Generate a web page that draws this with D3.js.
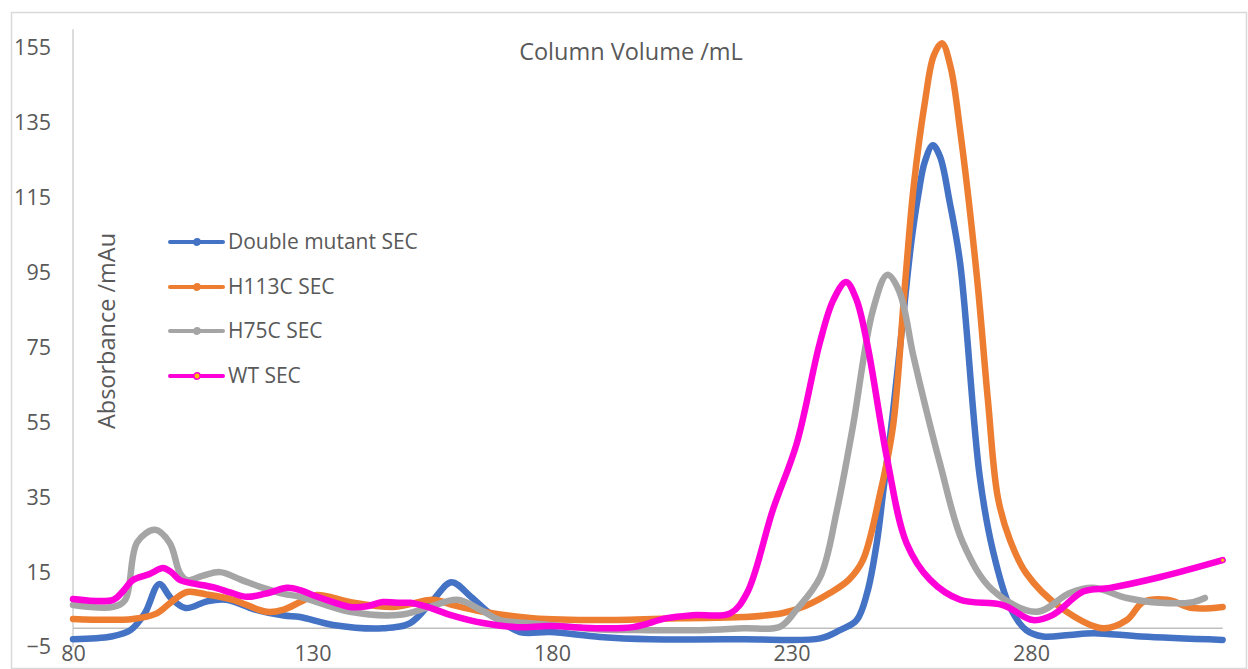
<!DOCTYPE html>
<html>
<head>
<meta charset="utf-8">
<script src="https://cdn.jsdelivr.net/npm/d3@7/dist/d3.min.js"></script>
<style>
  html, body { margin: 0; padding: 0; background: #fff; }
  svg { display: block; }
  text { font-family: "Open Sans", sans-serif; fill: #595959; }
</style>
</head>
<body>
<svg id="chart" width="1248" height="669"></svg>
<script>
// Size-exclusion chromatography traces: elution volume (mL) vs absorbance (mAu)
const seriesNames = ["Double mutant SEC", "H113C SEC", "H75C SEC", "WT SEC"];
const seriesColors = ["#4472C4", "#ED7D31", "#A5A5A5", "#FF00D8"];

const doubleMutantVolume = [80, 88, 92, 95, 98, 100.5, 103.5, 108, 112, 118, 124, 127.4, 134.3, 144.7, 150.4, 155.2, 159, 163, 167, 173.3, 179.6, 190, 200.5, 220, 236, 240.1, 243.6, 245.8, 247.8, 249.1, 251.2, 253.3, 255, 256.5, 257.8, 259.5, 261, 263, 265.2, 269.3, 272, 275.6, 279, 282.5, 288, 293, 303, 320];
const doubleMutantAbs = [-2.9, -2.2, -0.5, 4, 11.8, 8, 5.4, 7.2, 7.6, 5, 3.4, 3, 0.9, 0, 1.4, 7.6, 12.3, 8.5, 4, -1, -1, -2.3, -2.9, -2.9, -2.7, -0.5, 2.2, 9.5, 22.8, 36, 58, 83, 103, 116, 124.5, 129, 126, 114, 97.6, 40.5, 21, 5.7, -0.5, -2.2, -1.8, -1.3, -2.2, -3.1];

const h113cVolume = [80, 92.5, 97.5, 100.5, 103.8, 108, 113.4, 120.5, 124, 127.4, 130.9, 137.8, 147, 155.2, 159.3, 165.6, 176, 190, 207, 220, 228, 233, 238, 242, 244.9, 248.5, 251.2, 253.7, 255.5, 257.9, 259.7, 261.4, 263.2, 265.2, 268.7, 271, 273.1, 275.6, 279, 286, 295, 300, 303.4, 308.4, 313.8, 320];
const h113cAbs = [2.5, 2.5, 4, 7, 9.7, 9, 7.6, 4.4, 5, 7, 8.9, 7, 5.7, 7.6, 6.2, 4.4, 2.7, 2.2, 2.7, 3, 4, 6, 9.4, 13, 18.2, 36, 54, 92, 118, 141, 153, 156.3, 150, 133, 94, 61, 34.8, 23.6, 14.7, 5.7, 0, 2.2, 7, 7.6, 5.4, 5.7];

const h75cVolume = [80, 88.4, 90.9, 93.4, 97.1, 100.2, 102.3, 103.8, 107, 110.7, 115, 119.7, 124, 127.4, 137.8, 148.3, 154, 160.2, 165, 169.1, 174.8, 179.6, 190, 200.5, 211, 220, 227.6, 231, 236, 239.5, 242.8, 247, 250, 252.5, 255.4, 258, 261, 265.8, 272, 281.2, 288.1, 293, 300, 307, 313.8, 316.3];
const h75cAbs = [6.2, 5.7, 7.6, 23, 26.3, 22.8, 14.8, 12.9, 14, 15, 13, 10.8, 9.2, 8.4, 4.4, 3.6, 5.5, 7.6, 5, 2.2, 1.4, 0.9, -0.3, -0.5, -0.5, 0, 0.4, 4.9, 13.7, 31.6, 53.8, 85, 94.4, 90, 73, 59, 44, 22.8, 10.2, 4.4, 9.4, 10.8, 8.1, 6.8, 7, 8.1];

const wtVolume = [80, 88.4, 90.5, 92.5, 96, 98.8, 100.5, 102.3, 105, 109.2, 113, 116.3, 121, 124.7, 127.4, 130, 134.3, 137.8, 141.4, 144.7, 148.3, 150.4, 154, 158.7, 165.6, 172.7, 179.6, 190, 196.9, 204, 209.4, 217.2, 220.7, 226.1, 231.1, 235.9, 238.7, 241.4, 243.5, 245.8, 250, 254, 258.9, 265.2, 274.1, 280.4, 284.6, 290.9, 296.5, 307, 320];
const wtAbs = [7.8, 7.6, 10, 12.9, 14.5, 16.1, 15, 12.9, 12, 11, 9.5, 8.4, 9.5, 10.8, 10.2, 8.9, 7, 5.7, 5.9, 7, 6.8, 6.8, 5.7, 3.6, 1.4, 0.3, 0.6, 0, 0.3, 2.7, 3.5, 4, 9.4, 31.6, 49.4, 76.2, 87.6, 92.5, 88, 76, 45, 22.8, 13, 7.6, 6.2, 2.2, 3.6, 9.8, 10.8, 13.7, 18.2];

const xTicks = [80, 130, 180, 230, 280];
const yTicks = [-5, 15, 35, 55, 75, 95, 115, 135, 155];

const volumes = [doubleMutantVolume, h113cVolume, h75cVolume, wtVolume];
const absorbances = [doubleMutantAbs, h113cAbs, h75cAbs, wtAbs];
const series = seriesNames.map((name, i) => ({
  name,
  color: seriesColors[i],
  points: volumes[i].map((v, j) => ({ x: v, y: absorbances[i][j] }))
}));

const svg = d3.select("#chart");
const FONT = "'Open Sans', sans-serif";

// Outer chart frame
svg.append("rect")
  .attr("x", 11.5).attr("y", 12.5)
  .attr("width", 1235).attr("height", 656)
  .attr("fill", "none").attr("stroke", "#d9d9d9").attr("stroke-width", 1.5);

const x = d3.scaleLinear().domain([80, 320]).range([73, 1222.6]);
const y = d3.scaleLinear().domain([-5, 155]).range([647, 48]);

// Vertical value axis line
svg.append("line")
  .attr("x1", 73).attr("x2", 73)
  .attr("y1", y(160)).attr("y2", y(-5))
  .attr("stroke", "#d0d0d0").attr("stroke-width", 1.5);

// Horizontal axis line at zero absorbance
svg.append("line")
  .attr("x1", x(80)).attr("x2", x(320))
  .attr("y1", y(0)).attr("y2", y(0))
  .attr("stroke", "#bfbfbf").attr("stroke-width", 1.5);

// Y tick labels
const yAxis = d3.axisLeft(y).tickValues(yTicks).tickSize(0).tickPadding(0);
const yg = svg.append("g").attr("transform", "translate(51,0)").call(yAxis);
yg.select(".domain").remove();
yg.selectAll("text")
  .attr("font-size", 21.5).attr("fill", "#595959")
  .style("font-family", FONT);

// X tick labels along the bottom
const xAxis = d3.axisBottom(x).tickValues(xTicks).tickSize(0).tickPadding(0);
const xg = svg.append("g").attr("transform", "translate(0,646)").call(xAxis);
xg.select(".domain").remove();
xg.selectAll("text")
  .attr("font-size", 21.5).attr("fill", "#595959")
  .style("font-family", FONT);

// Titles
svg.append("text")
  .attr("x", 631).attr("y", 60)
  .attr("text-anchor", "middle")
  .attr("font-size", 23.5)
  .text("Column Volume /mL");

svg.append("text")
  .attr("transform", "translate(115,331) rotate(-90)")
  .attr("text-anchor", "middle")
  .attr("font-size", 23.5)
  .text("Absorbance /mAu");

// Smoothed traces
const line = d3.line()
  .x(d => x(d.x))
  .y(d => y(d.y))
  .curve(d3.curveCatmullRom.alpha(0.5));

svg.append("g").selectAll("path")
  .data(series)
  .join("path")
  .attr("d", d => line(d.points))
  .attr("fill", "none")
  .attr("stroke", d => d.color)
  .attr("stroke-width", 6.5)
  .attr("stroke-linecap", "round")
  .attr("stroke-linejoin", "round");

// Final WT point marker
const wtLast = series[3].points[series[3].points.length - 1];
svg.append("circle")
  .attr("cx", x(wtLast.x)).attr("cy", y(wtLast.y))
  .attr("r", 1.6).attr("fill", "#FFC000");

// Legend
const legendY = [242, 287, 331, 376];
const lg = svg.append("g").selectAll("g")
  .data(series)
  .join("g")
  .attr("transform", (d, i) => `translate(0,${legendY[i]})`);

lg.append("line")
  .attr("x1", 170).attr("x2", 223)
  .attr("stroke", d => d.color).attr("stroke-width", 4)
  .attr("stroke-linecap", "round");

lg.append("circle")
  .attr("cx", 197).attr("r", 3.2)
  .attr("fill", (d, i) => i === 3 ? "#FFC000" : d.color)
  .attr("stroke", d => d.color).attr("stroke-width", 1.5);

lg.append("text")
  .attr("x", 228).attr("dy", "0.35em")
  .attr("font-size", 21)
  .text(d => d.name);
</script>
</body>
</html>
